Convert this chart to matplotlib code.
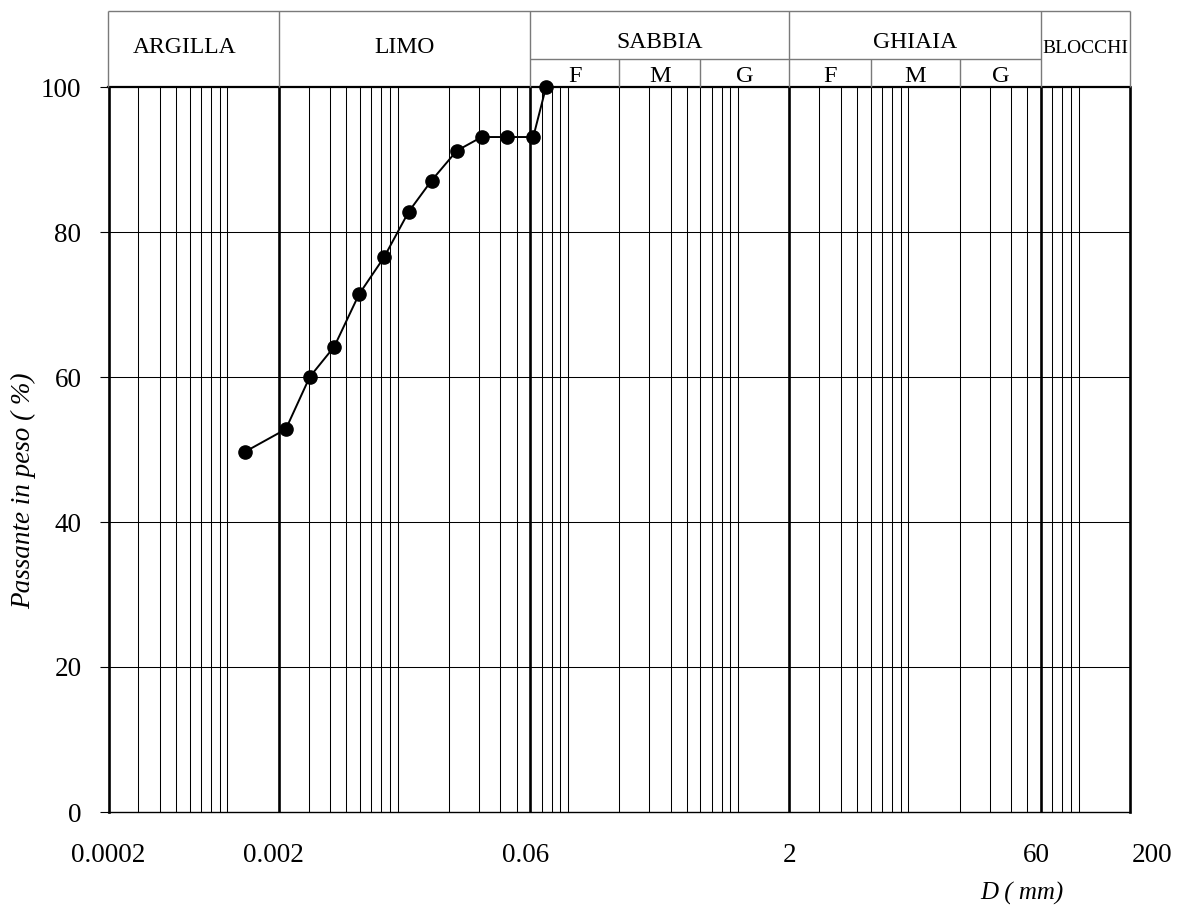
import matplotlib
matplotlib.use("Agg")
import matplotlib.pyplot as plt
import matplotlib.transforms as mtransforms
from matplotlib.ticker import NullLocator
import numpy as np

# ---------------- data ----------------
diametro_mm = [0.00127, 0.0022, 0.00304, 0.00424, 0.00592, 0.0083, 0.0116,
               0.0158, 0.0222, 0.0311, 0.044, 0.0625, 0.0743]
passante = [49.7, 52.8, 60.0, 64.2, 71.4, 76.5, 82.8,
            87.1, 91.2, 93.1, 93.1, 93.1, 100.0]

x_ticks = [0.0002, 0.002, 0.06, 2, 60, 200]
x_tick_labels = ["0.0002", "0.002", "0.06", "2", "60", "200"]
y_ticks = [0, 20, 40, 60, 80, 100]
y_tick_labels = ["0", "20", "40", "60", "80", "100"]

classi = ["ARGILLA", "LIMO", "SABBIA", "GHIAIA", "BLOCCHI"]
limiti_classi = [0.0002, 0.002, 0.06, 2, 60, 200]
sottoclassi = ["F", "M", "G"]
limiti_sabbia = [0.06, 0.2, 0.6, 2]
limiti_ghiaia = [2, 6, 20, 60]

# ---------------- figure ----------------
plt.rcParams['font.family'] = ['Liberation Serif', 'DejaVu Serif']
W, H = 1177, 910
fig = plt.figure(figsize=(W / 100, H / 100), dpi=100)

L, R, T, B = 108.5, 1130, 87, 812
HT = 11
ax = fig.add_axes([L / W, 1 - B / H, (R - L) / W, (B - T) / H])
ax.set_xscale('log')
ax.set_xlim(limiti_classi[0], limiti_classi[-1])
ax.set_ylim(0, 100)

# thin vertical grid (1..9 x 10^k)
for k in range(-4, 3):
    for n in range(1, 10):
        v = n * 10.0 ** k
        if limiti_classi[0] < v < limiti_classi[-1] and not any(np.isclose(v, b) for b in limiti_classi):
            ax.axvline(v, color='black', lw=0.75, zorder=1)
# heavy class boundaries
for b in limiti_classi[1:-1]:
    ax.axvline(b, color='black', lw=1.9, zorder=2)
# horizontal grid
for y in y_ticks[1:-1]:
    ax.axhline(y, color='black', lw=0.75, zorder=1)

for s, lw in (('left', 1.9), ('right', 1.9), ('top', 1.6), ('bottom', 1.0)):
    ax.spines[s].set_linewidth(lw)
    ax.spines[s].set_color('black')
    ax.spines[s].set_zorder(3)

# data curve
ax.plot(diametro_mm, passante, color='black', lw=1.4, marker='o',
        markersize=9.5, markerfacecolor='black', markeredgecolor='black', zorder=5,
        clip_on=False)

# ticks
ax.xaxis.set_minor_locator(NullLocator())
ax.set_xticks(x_ticks)
ax.set_xticklabels(x_tick_labels)
ax.set_yticks(y_ticks)
ax.set_yticklabels(y_tick_labels)
ax.tick_params(axis='x', which='both', length=0, pad=22, labelsize=19.5)
ax.tick_params(axis='y', length=6.5, width=0.8, pad=13, direction='out', labelsize=19.5)

# small horizontal offsets of x tick labels (px)
x_label_shift = [0, -5, -5, 0, -5, 22]
for tick, dx in zip(ax.xaxis.get_major_ticks(), x_label_shift):
    tick.label1.set_transform(tick.label1.get_transform() +
                              mtransforms.ScaledTranslation(dx / 100, 0, fig.dpi_scale_trans))

ax.set_ylabel('Passante in peso ( %)', fontsize=19.5, style='italic')
ax.yaxis.set_label_coords(-0.071, 0.443)
ax.set_xlabel('D ( mm)', fontsize=18, style='italic')
ax.xaxis.set_label_coords(0.894, -0.0966)

# ---------------- header table ----------------
axh = fig.add_axes([L / W, 1 - T / H, (R - L) / W, (T - HT) / H], sharex=ax)
axh.set_ylim(0, 1)
axh.axis('off')
hc = '#7a7a7a'
sub_y = (T - 58.5) / (T - HT)
axh.hlines(1, limiti_classi[0], limiti_classi[-1], color=hc, lw=1.0, clip_on=False)
axh.vlines(limiti_classi, 0, 1, color=hc, lw=1.0, clip_on=False)
axh.hlines(sub_y, limiti_sabbia[0], limiti_ghiaia[-1], color=hc, lw=1.0, clip_on=False)
axh.vlines(limiti_sabbia[1:-1] + limiti_ghiaia[1:-1], 0, sub_y, color=hc, lw=1.0, clip_on=False)

full_base = (T - 53.3) / (T - HT)
split_base = (T - 48.3) / (T - HT)
sub_base = (T - 81.7) / (T - HT)
class_shift = {"ARGILLA": -9}
class_size = {"BLOCCHI": 14}
for i, name in enumerate(classi):
    lo, hi = limiti_classi[i], limiti_classi[i + 1]
    xc = np.sqrt(lo * hi)
    yb = split_base if name in ("SABBIA", "GHIAIA") else full_base
    t = axh.text(xc, yb, name, ha='center', va='baseline',
                 fontsize=class_size.get(name, 17))
    if name in class_shift:
        t.set_transform(t.get_transform() + mtransforms.ScaledTranslation(
            class_shift[name] / 100, 0, fig.dpi_scale_trans))

for lims in (limiti_sabbia, limiti_ghiaia):
    for j, s in enumerate(sottoclassi):
        xc = np.sqrt(lims[j] * lims[j + 1])
        axh.text(xc, sub_base, s, ha='center', va='baseline', fontsize=17.5)

fig.savefig('out.png', dpi=100)
